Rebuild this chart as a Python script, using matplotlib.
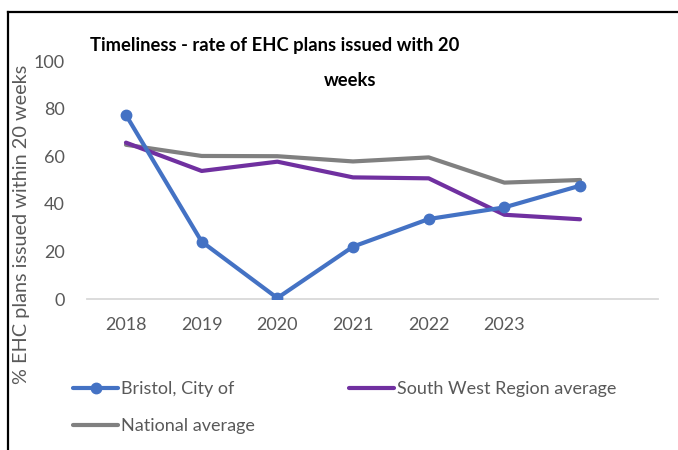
import matplotlib
matplotlib.use("Agg")
import matplotlib.pyplot as plt
from matplotlib.lines import Line2D

plt.rcParams['font.family'] = ['Lato', 'DejaVu Sans']

categories = ['2018', '2019', '2020', '2021', '2022', '2023', '']
bristol = [77.3, 24.1, 0.4, 22.0, 33.6, 38.5, 47.6]
south_west = [65.7, 53.8, 57.7, 51.1, 50.7, 35.4, 33.5]
national = [64.8, 60.1, 60.0, 57.8, 59.5, 48.9, 50.0]
y_ticks = [0, 20, 40, 60, 80, 100]

W, H = 678, 450
fig = plt.figure(figsize=(W / 100, H / 100), dpi=100)
ax = fig.add_axes([87 / W, 1 - 299 / H, (658 - 87) / W, (299 - 61) / H])

x = list(range(len(categories)))
blue = '#4472C4'
purple = '#7030A0'
gray = '#808080'
tick_color = '#595959'

l1, = ax.plot(x, bristol, color=blue, lw=3, marker='o', ms=7.5,
              solid_capstyle='round', solid_joinstyle='round', label='Bristol, City of', zorder=3)
l2, = ax.plot(x, south_west, color=purple, lw=3,
              solid_capstyle='round', solid_joinstyle='round', label='South West Region average', zorder=2)
l3, = ax.plot(x, national, color=gray, lw=3,
              solid_capstyle='round', solid_joinstyle='round', label='National average', zorder=1)

ax.set_xlim(-0.515, 7.03)
ax.set_ylim(0, 100)
ax.set_xticks(x)
ax.set_xticklabels(categories)
ax.set_yticks(y_ticks)
ax.tick_params(axis='both', length=0, labelsize=13, colors=tick_color)
ax.tick_params(axis='x', pad=13)
ax.tick_params(axis='y', pad=16)
for s in ['top', 'right', 'left']:
    ax.spines[s].set_visible(False)
ax.spines['bottom'].set_color('#D9D9D9')
ax.spines['bottom'].set_linewidth(1.3)
ax.patch.set_alpha(0)

fig.text(22 / W, 1 - 224 / H, '% EHC plans issued within 20 weeks', rotation=90,
         ha='center', va='center', fontsize=14.3, color=tick_color)

fig.text(275 / W, 1 - 46 / H, 'Timeliness - rate of EHC plans issued with 20',
         ha='center', va='center', fontsize=13.2, fontweight='bold', color='black')
fig.text(350 / W, 1 - 80 / H, 'weeks',
         ha='center', va='center', fontsize=13.2, fontweight='bold', color='black')

leg = fig.legend(handles=[l1, l3, l2], ncol=2, loc='upper left',
                 bbox_to_anchor=(57 / W, 1 - 365 / H), frameon=False,
                 fontsize=13, labelcolor=tick_color, handlelength=2.5,
                 handletextpad=0.15, columnspacing=5.2, labelspacing=1.15)

# chart border (left and top edges)
fig.add_artist(Line2D([8 / W, 8 / W], [0, 1 - 12 / H], transform=fig.transFigure,
                      color='black', lw=1.6))
fig.add_artist(Line2D([8 / W, 1], [1 - 12 / H, 1 - 12 / H], transform=fig.transFigure,
                      color='black', lw=1.6))

fig.savefig('out.png', dpi=100)
